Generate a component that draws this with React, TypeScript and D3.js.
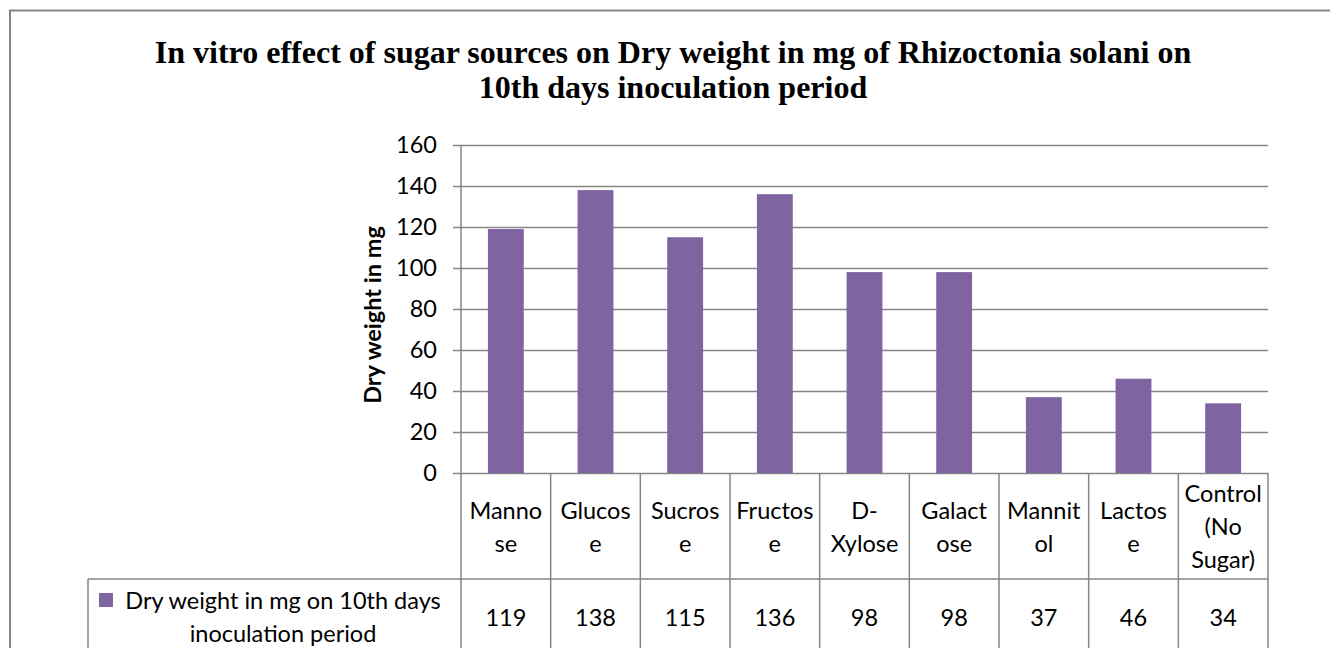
import React, { useEffect, useRef } from 'react';
import * as d3 from 'd3';

// chart values
const categories = ['Mannose', 'Glucose', 'Sucrose', 'Fructose', 'D-Xylose', 'Galactose', 'Mannitol', 'Lactose', 'Control (No Sugar)'];
const categoryLines = [
    ['Manno', 'se'],
    ['Glucos', 'e'],
    ['Sucros', 'e'],
    ['Fructos', 'e'],
    ['D-', 'Xylose'],
    ['Galact', 'ose'],
    ['Mannit', 'ol'],
    ['Lactos', 'e'],
    ['Control', '(No', 'Sugar)'],
];
const dryWeight = [119, 138, 115, 136, 98, 98, 37, 46, 34];
const yTicks = [0, 20, 40, 60, 80, 100, 120, 140, 160];
const seriesLabel = ['Dry weight in mg on 10th days', 'inoculation period'];
const titleLines = [
    'In vitro effect of sugar sources on Dry weight in mg of Rhizoctonia solani on',
    '10th days inoculation period',
];

const App = () => {
    const svgRef = useRef(null);

    useEffect(() => {
        document.body.style.margin = '0';
        if (!svgRef.current) return;

        const W = 1330, H = 648;
        const plot = { left: 461, right: 1268, top: 145, bottom: 473 };
        const catRowBottom = 579;
        const tableBottom = 654;
        const legendLeft = 88;
        const grid = '#868686';
        const barColor = '#8064A2';
        const sans = 'Lato, "Open Sans", sans-serif';
        const fs = '23.5px';

        const svg = d3.select(svgRef.current);
        svg.selectAll('*').remove();
        svg.attr('width', W).attr('height', H);

        svg.append('rect').attr('width', W).attr('height', H).attr('fill', '#fff');

        // outer chart frame
        svg.append('rect')
            .attr('x', 10).attr('y', 10.5)
            .attr('width', 1340).attr('height', 700)
            .attr('fill', 'none').attr('stroke', grid).attr('stroke-width', 2);

        // title
        svg.append('g').selectAll('text')
            .data(titleLines)
            .enter()
            .append('text')
            .attr('x', 673)
            .attr('y', (d, i) => 63 + i * 35)
            .attr('text-anchor', 'middle')
            .style('font-family', '"Liberation Serif", "Times New Roman", serif')
            .style('font-weight', 'bold')
            .style('font-size', '32px')
            .text(d => d);

        const x = d3.scaleBand()
            .domain(categories)
            .range([plot.left, plot.right])
            .padding(0);

        const y = d3.scaleLinear()
            .domain([0, 160])
            .range([plot.bottom, plot.top]);

        // gridlines + y axis
        const yAxis = svg.append('g')
            .attr('transform', `translate(${plot.left},0)`)
            .call(d3.axisLeft(y).tickValues(yTicks).tickSize(8).tickSizeOuter(0).tickPadding(16));
        yAxis.select('.domain').remove();
        yAxis.selectAll('.tick line')
            .attr('x1', -8)
            .attr('x2', plot.right - plot.left)
            .attr('stroke', grid)
            .attr('stroke-width', 1.5);
        yAxis.selectAll('.tick text')
            .style('font-family', sans)
            .style('font-size', fs)
            .attr('fill', '#000');

        svg.append('text')
            .attr('transform', `translate(372,${(plot.top + plot.bottom) / 2 + 6}) rotate(-90)`)
            .attr('text-anchor', 'middle')
            .attr('dominant-baseline', 'central')
            .style('font-family', sans)
            .style('font-weight', 'bold')
            .style('font-size', '23.5px')
            .text('Dry weight in mg');

        // bars
        const barW = x.bandwidth() * 0.4;
        svg.append('g').selectAll('rect')
            .data(dryWeight)
            .enter()
            .append('rect')
            .attr('x', (d, i) => x(categories[i]) + (x.bandwidth() - barW) / 2)
            .attr('y', d => y(d))
            .attr('width', barW)
            .attr('height', d => y(0) - y(d))
            .attr('fill', barColor);

        // data table lines
        const lines = svg.append('g').attr('stroke', grid).attr('stroke-width', 1.5);
        lines.append('line').attr('x1', plot.left).attr('x2', plot.left).attr('y1', plot.top).attr('y2', tableBottom);
        categories.forEach(c => {
            const xr = x(c) + x.bandwidth();
            lines.append('line').attr('x1', xr).attr('x2', xr).attr('y1', plot.bottom).attr('y2', tableBottom);
        });
        lines.append('line').attr('x1', legendLeft).attr('x2', plot.right).attr('y1', catRowBottom).attr('y2', catRowBottom);
        lines.append('line').attr('x1', legendLeft).attr('x2', legendLeft).attr('y1', catRowBottom).attr('y2', tableBottom);

        // category labels
        const catMid = (plot.bottom + catRowBottom) / 2;
        const lh = 33;
        categoryLines.forEach((ls, i) => {
            const cx = x(categories[i]) + x.bandwidth() / 2;
            ls.forEach((t, j) => {
                svg.append('text')
                    .attr('x', cx)
                    .attr('y', catMid + (j - (ls.length - 1) / 2) * lh)
                    .attr('text-anchor', 'middle')
                    .attr('dominant-baseline', 'central')
                    .style('font-family', sans)
                    .style('font-size', fs)
                    .text(t);
            });
        });

        // values row
        const dataMid = (catRowBottom + tableBottom) / 2;
        svg.append('g').selectAll('text')
            .data(dryWeight)
            .enter()
            .append('text')
            .attr('x', (d, i) => x(categories[i]) + x.bandwidth() / 2)
            .attr('y', dataMid)
            .attr('text-anchor', 'middle')
            .attr('dominant-baseline', 'central')
            .style('font-family', sans)
            .style('font-size', fs)
            .text(d => d);

        // legend key in table
        const legCx = 283;
        seriesLabel.forEach((t, j) => {
            svg.append('text')
                .attr('x', legCx)
                .attr('y', dataMid + (j - 0.5) * lh)
                .attr('text-anchor', 'middle')
                .attr('dominant-baseline', 'central')
                .style('font-family', sans)
                .style('font-size', fs)
                .text(t);
        });
        svg.append('rect')
            .attr('x', 99).attr('y', dataMid - lh / 2 - 7)
            .attr('width', 14).attr('height', 14)
            .attr('fill', barColor);
    }, []);

    return (
        <div>
            <svg ref={svgRef}></svg>
        </div>
    );
};

export default App;
